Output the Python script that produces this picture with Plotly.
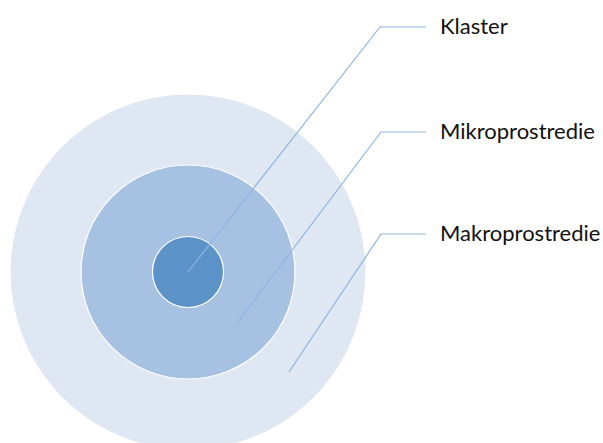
import plotly.graph_objects as go

# Data
labels = ["Klaster", "Mikroprostredie", "Makroprostredie"]
ring_radius = [35.5, 107, 178]          # inner -> outer
ring_colors = ["#5b93c9", "#a7c1e2", "#dfe7f2"]

center = (188, 272)
# leader lines: start point inside ring, elbow, end
leader_start = [(188, 272), (238, 322), (289, 372)]
leader_elbow = [(380, 27), (381, 132), (381, 234)]
leader_end_x = 426
label_x = 438

fig = go.Figure()

shapes = []
for r, c in reversed(list(zip(ring_radius, ring_colors))):
    shapes.append(dict(type="circle", xref="x", yref="y",
                       x0=center[0] - r, x1=center[0] + r,
                       y0=center[1] - r, y1=center[1] + r,
                       fillcolor=c, line=dict(color="white", width=1.2),
                       layer="below"))

for lab, s, e in zip(labels, leader_start, leader_elbow):
    fig.add_trace(go.Scatter(x=[s[0], e[0], leader_end_x], y=[s[1], e[1], e[1]],
                             mode="lines", line=dict(color="#8fb5e0", width=1.2),
                             hoverinfo="skip", showlegend=False))
    fig.add_annotation(x=label_x, y=e[1] - 2, text=lab, showarrow=False,
                       xanchor="left", yanchor="middle",
                       font=dict(family="Lato", size=22, color="#111111"))

fig.update_layout(
    width=603, height=443,
    margin=dict(l=0, r=0, t=0, b=0),
    plot_bgcolor="white", paper_bgcolor="white",
    shapes=shapes,
    xaxis=dict(range=[0, 603], visible=False, fixedrange=True),
    yaxis=dict(range=[443, 0], visible=False, fixedrange=True),
    showlegend=False,
)

fig.write_html("out.html", post_script="document.body.style.margin='0px';",
               config={"displayModeBar": False})
